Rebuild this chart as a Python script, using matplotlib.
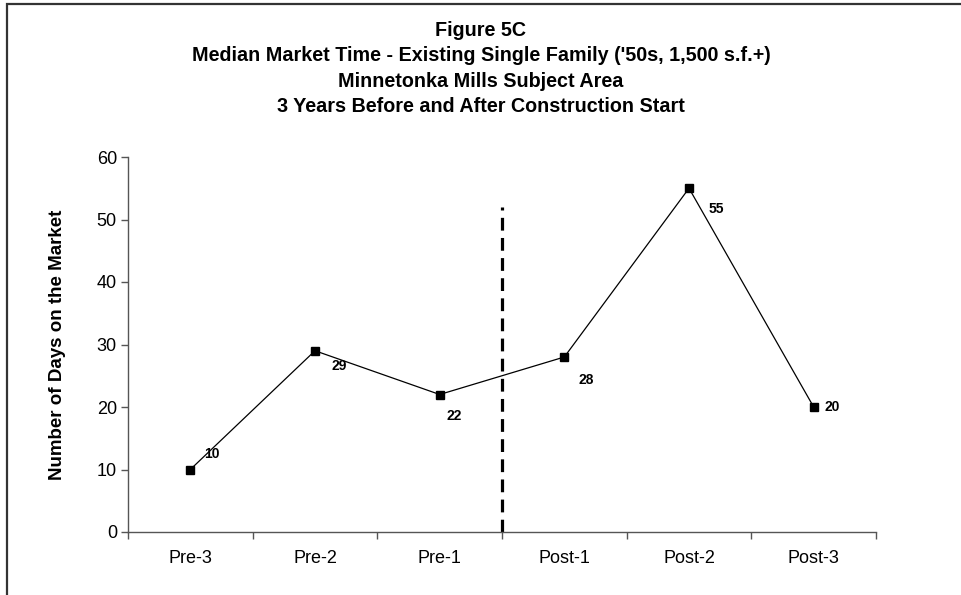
import matplotlib
matplotlib.use("Agg")
import matplotlib.pyplot as plt
from matplotlib.patches import Rectangle

plt.rcParams['font.family'] = ['Liberation Sans', 'DejaVu Sans']

# data
periods = ["Pre-3", "Pre-2", "Pre-1", "Post-1", "Post-2", "Post-3"]
days = [10, 29, 22, 28, 55, 20]
# label offsets in pixels (dx, dy) relative to each point
label_offsets = [(22, 16), (24, -15), (14, -21), (22, -23), (27, -21), (19, 0)]

title_lines = ["Figure 5C",
               "Median Market Time - Existing Single Family ('50s, 1,500 s.f.+)",
               "Minnetonka Mills Subject Area",
               "3 Years Before and After Construction Start"]

W, H = 962, 595
fig = plt.figure(figsize=(W / 100, H / 100), dpi=100)
ax = fig.add_axes([128 / W, 63 / H, 748 / W, 375 / H])

# frame round the chart (only top and left edges are in view)
fig.patches.append(Rectangle((7 / W, -0.1), 1.2, (H - 4) / H + 0.1,
                             transform=fig.transFigure, fill=False,
                             edgecolor="#333333", linewidth=1.6))

x = range(len(periods))
ax.plot(x, days, color="black", linewidth=0.9, marker="s",
        markersize=5.8, markerfacecolor="black", zorder=3)

for i, v in enumerate(days):
    dx, dy = label_offsets[i]
    ax.annotate(str(v), (i, v), xytext=(dx, dy), textcoords="offset pixels",
                ha="center", va="center", fontsize=10, fontweight="bold")

# construction start
split = len(periods) / 2 - 0.5
ax.plot([split, split], [0, 52], color="black", linewidth=2.3,
        linestyle=(0, (4, 2.3)), zorder=2)

ax.set_xlim(-0.5, len(periods) - 0.5)
ax.set_ylim(0, 60)
ax.set_yticks(range(0, 61, 10))
ax.set_xticks(list(x))
ax.set_xticklabels(periods)
ax.set_xticks([i - 0.5 for i in range(len(periods) + 1)], minor=True)
ax.tick_params(axis="x", which="major", length=0, pad=13, labelsize=13)
ax.tick_params(axis="x", which="minor", length=5, width=1, color="#555555", direction="out")
ax.tick_params(axis="y", length=5, width=1, color="#555555", labelsize=13, pad=3)

for s in ["top", "right"]:
    ax.spines[s].set_visible(False)
for s in ["left", "bottom"]:
    ax.spines[s].set_color("#555555")
    ax.spines[s].set_linewidth(1)

ax.set_ylabel("Number of Days on the Market", fontsize=13.5, fontweight="bold")
ax.yaxis.set_label_coords(-(128 - 66) / 748, 0.5)

for k, line in enumerate(title_lines):
    fig.text(0.5, 1 - (36 + 25.4 * k) / H, line, ha="center", va="baseline",
             fontsize=14.2, fontweight="bold")

fig.savefig("out.png", dpi=100)
